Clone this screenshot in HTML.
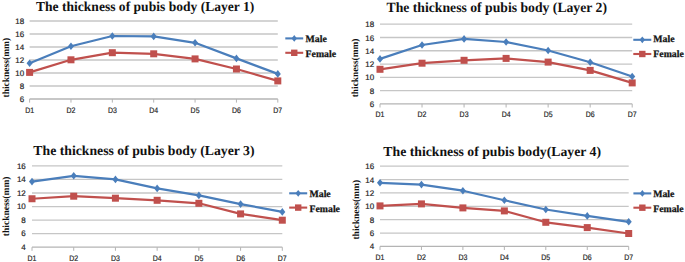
<!DOCTYPE html>
<html><head><meta charset="utf-8"><style>
html,body{margin:0;padding:0;background:#fff;width:685px;height:262px;overflow:hidden}
svg{display:block}
text{text-rendering:geometricPrecision}
.tk{font-family:"Liberation Sans",sans-serif;font-size:8.0px;fill:#262626;stroke:#262626;stroke-width:0.2px}
.ti{text-rendering:geometricPrecision;font-family:"Liberation Serif",serif;font-weight:bold;font-size:13.6px;fill:#111}
.yl{font-family:"Liberation Serif",serif;font-weight:bold;font-size:9.5px;fill:#111}
.lg{font-family:"Liberation Serif",serif;font-weight:bold;font-size:9.8px;fill:#111;stroke:#111;stroke-width:0.25px}
</style></head><body>
<svg width="685" height="262" viewBox="0 0 685 262">
<rect width="685" height="262" fill="#fff"/>
<line x1="29.6" x2="277.8" y1="21" y2="21" stroke="#c6c6c6" stroke-width="1.3"/>
<line x1="29.6" x2="277.8" y1="34" y2="34" stroke="#c6c6c6" stroke-width="1.3"/>
<line x1="29.6" x2="277.8" y1="47" y2="47" stroke="#c6c6c6" stroke-width="1.3"/>
<line x1="29.6" x2="277.8" y1="60" y2="60" stroke="#c6c6c6" stroke-width="1.3"/>
<line x1="29.6" x2="277.8" y1="73" y2="73" stroke="#c6c6c6" stroke-width="1.3"/>
<line x1="29.6" x2="277.8" y1="86" y2="86" stroke="#c6c6c6" stroke-width="1.3"/>
<line x1="29.6" x2="277.8" y1="99" y2="99" stroke="#b4b4b4" stroke-width="1.3"/>
<line x1="29.6" x2="29.6" y1="99" y2="102.6" stroke="#b4b4b4" stroke-width="1"/>
<line x1="70.97" x2="70.97" y1="99" y2="102.6" stroke="#b4b4b4" stroke-width="1"/>
<line x1="112.33" x2="112.33" y1="99" y2="102.6" stroke="#b4b4b4" stroke-width="1"/>
<line x1="153.7" x2="153.7" y1="99" y2="102.6" stroke="#b4b4b4" stroke-width="1"/>
<line x1="195.07" x2="195.07" y1="99" y2="102.6" stroke="#b4b4b4" stroke-width="1"/>
<line x1="236.43" x2="236.43" y1="99" y2="102.6" stroke="#b4b4b4" stroke-width="1"/>
<line x1="277.8" x2="277.8" y1="99" y2="102.6" stroke="#b4b4b4" stroke-width="1"/>
<text x="24.2" y="24" text-anchor="end" class="tk">18</text>
<text x="24.2" y="37" text-anchor="end" class="tk">16</text>
<text x="24.2" y="50" text-anchor="end" class="tk">14</text>
<text x="24.2" y="63" text-anchor="end" class="tk">12</text>
<text x="24.2" y="76" text-anchor="end" class="tk">10</text>
<text x="24.2" y="89" text-anchor="end" class="tk">8</text>
<text x="24.2" y="102" text-anchor="end" class="tk">6</text>
<text x="29.6" y="112.75" text-anchor="middle" class="tk" textLength="8.9" lengthAdjust="spacingAndGlyphs">D1</text>
<text x="70.97" y="112.75" text-anchor="middle" class="tk" textLength="8.9" lengthAdjust="spacingAndGlyphs">D2</text>
<text x="112.33" y="112.75" text-anchor="middle" class="tk" textLength="8.9" lengthAdjust="spacingAndGlyphs">D3</text>
<text x="153.7" y="112.75" text-anchor="middle" class="tk" textLength="8.9" lengthAdjust="spacingAndGlyphs">D4</text>
<text x="195.07" y="112.75" text-anchor="middle" class="tk" textLength="8.9" lengthAdjust="spacingAndGlyphs">D5</text>
<text x="236.43" y="112.75" text-anchor="middle" class="tk" textLength="8.9" lengthAdjust="spacingAndGlyphs">D6</text>
<text x="277.8" y="112.75" text-anchor="middle" class="tk" textLength="8.9" lengthAdjust="spacingAndGlyphs">D7</text>
<polyline points="29.6,72.4 70.97,59.8 112.33,52.7 153.7,53.8 195.07,58.9 236.43,69 277.8,80.9" fill="none" stroke="#c0504d" stroke-width="2.2" stroke-linejoin="round"/>
<polyline points="29.6,63.2 70.97,46.3 112.33,36 153.7,36.4 195.07,42.8 236.43,58.4 277.8,73.9" fill="none" stroke="#4a7ebb" stroke-width="2.2" stroke-linejoin="round"/>
<rect x="26.1" y="68.9" width="7" height="7" fill="#c0504d"/>
<rect x="67.47" y="56.3" width="7" height="7" fill="#c0504d"/>
<rect x="108.83" y="49.2" width="7" height="7" fill="#c0504d"/>
<rect x="150.2" y="50.3" width="7" height="7" fill="#c0504d"/>
<rect x="191.57" y="55.4" width="7" height="7" fill="#c0504d"/>
<rect x="232.93" y="65.5" width="7" height="7" fill="#c0504d"/>
<rect x="274.3" y="77.4" width="7" height="7" fill="#c0504d"/>
<path d="M29.6 59.4L32.64 63.2L29.6 67L26.56 63.2Z" fill="#4a7ebb"/>
<path d="M70.97 42.5L74.01 46.3L70.97 50.1L67.93 46.3Z" fill="#4a7ebb"/>
<path d="M112.33 32.2L115.37 36L112.33 39.8L109.29 36Z" fill="#4a7ebb"/>
<path d="M153.7 32.6L156.74 36.4L153.7 40.2L150.66 36.4Z" fill="#4a7ebb"/>
<path d="M195.07 39L198.11 42.8L195.07 46.6L192.03 42.8Z" fill="#4a7ebb"/>
<path d="M236.43 54.6L239.47 58.4L236.43 62.2L233.39 58.4Z" fill="#4a7ebb"/>
<path d="M277.8 70.1L280.84 73.9L277.8 77.7L274.76 73.9Z" fill="#4a7ebb"/>
<text x="35.94" y="10.9" class="ti" style="font-size:13.6px" textLength="218.41" lengthAdjust="spacingAndGlyphs">The thickness of pubis body (Layer 1)</text>
<text transform="translate(8.9,67.7) rotate(-90)" text-anchor="middle" class="yl" style="font-size:9.5px">thickness(mm)</text>
<line x1="285.3" x2="303.2" y1="38.4" y2="38.4" stroke="#4a7ebb" stroke-width="2.1"/>
<path d="M294.25 35L296.97 38.4L294.25 41.8L291.53 38.4Z" fill="#4a7ebb"/>
<text x="305.6" y="41.5" class="lg">Male</text>
<line x1="285.3" x2="303.2" y1="52.8" y2="52.8" stroke="#c0504d" stroke-width="2.1"/>
<rect x="291.05" y="49.6" width="6.4" height="6.4" fill="#c0504d"/>
<text x="305.6" y="56.9" class="lg">Female</text>
<line x1="380" x2="632.2" y1="24.2" y2="24.2" stroke="#c6c6c6" stroke-width="1.3"/>
<line x1="380" x2="632.2" y1="37.48" y2="37.48" stroke="#c6c6c6" stroke-width="1.3"/>
<line x1="380" x2="632.2" y1="50.77" y2="50.77" stroke="#c6c6c6" stroke-width="1.3"/>
<line x1="380" x2="632.2" y1="64.05" y2="64.05" stroke="#c6c6c6" stroke-width="1.3"/>
<line x1="380" x2="632.2" y1="77.33" y2="77.33" stroke="#c6c6c6" stroke-width="1.3"/>
<line x1="380" x2="632.2" y1="90.62" y2="90.62" stroke="#c6c6c6" stroke-width="1.3"/>
<line x1="380" x2="632.2" y1="103.9" y2="103.9" stroke="#b4b4b4" stroke-width="1.3"/>
<line x1="380" x2="380" y1="103.9" y2="107.5" stroke="#b4b4b4" stroke-width="1"/>
<line x1="422.03" x2="422.03" y1="103.9" y2="107.5" stroke="#b4b4b4" stroke-width="1"/>
<line x1="464.07" x2="464.07" y1="103.9" y2="107.5" stroke="#b4b4b4" stroke-width="1"/>
<line x1="506.1" x2="506.1" y1="103.9" y2="107.5" stroke="#b4b4b4" stroke-width="1"/>
<line x1="548.13" x2="548.13" y1="103.9" y2="107.5" stroke="#b4b4b4" stroke-width="1"/>
<line x1="590.17" x2="590.17" y1="103.9" y2="107.5" stroke="#b4b4b4" stroke-width="1"/>
<line x1="632.2" x2="632.2" y1="103.9" y2="107.5" stroke="#b4b4b4" stroke-width="1"/>
<text x="374.1" y="27.3" text-anchor="end" class="tk">18</text>
<text x="374.1" y="40.58" text-anchor="end" class="tk">16</text>
<text x="374.1" y="53.87" text-anchor="end" class="tk">14</text>
<text x="374.1" y="67.15" text-anchor="end" class="tk">12</text>
<text x="374.1" y="80.43" text-anchor="end" class="tk">10</text>
<text x="374.1" y="93.72" text-anchor="end" class="tk">8</text>
<text x="374.1" y="107" text-anchor="end" class="tk">6</text>
<text x="380" y="117" text-anchor="middle" class="tk" textLength="8.9" lengthAdjust="spacingAndGlyphs">D1</text>
<text x="422.03" y="117" text-anchor="middle" class="tk" textLength="8.9" lengthAdjust="spacingAndGlyphs">D2</text>
<text x="464.07" y="117" text-anchor="middle" class="tk" textLength="8.9" lengthAdjust="spacingAndGlyphs">D3</text>
<text x="506.1" y="117" text-anchor="middle" class="tk" textLength="8.9" lengthAdjust="spacingAndGlyphs">D4</text>
<text x="548.13" y="117" text-anchor="middle" class="tk" textLength="8.9" lengthAdjust="spacingAndGlyphs">D5</text>
<text x="590.17" y="117" text-anchor="middle" class="tk" textLength="8.9" lengthAdjust="spacingAndGlyphs">D6</text>
<text x="632.2" y="117" text-anchor="middle" class="tk" textLength="8.9" lengthAdjust="spacingAndGlyphs">D7</text>
<polyline points="380,69.3 422.03,63.2 464.07,60.3 506.1,58.4 548.13,62.1 590.17,70.4 632.2,82.9" fill="none" stroke="#c0504d" stroke-width="2.2" stroke-linejoin="round"/>
<polyline points="380,58.9 422.03,45 464.07,38.9 506.1,42 548.13,50.5 590.17,62.3 632.2,76.5" fill="none" stroke="#4a7ebb" stroke-width="2.2" stroke-linejoin="round"/>
<rect x="376.5" y="65.8" width="7" height="7" fill="#c0504d"/>
<rect x="418.53" y="59.7" width="7" height="7" fill="#c0504d"/>
<rect x="460.57" y="56.8" width="7" height="7" fill="#c0504d"/>
<rect x="502.6" y="54.9" width="7" height="7" fill="#c0504d"/>
<rect x="544.63" y="58.6" width="7" height="7" fill="#c0504d"/>
<rect x="586.67" y="66.9" width="7" height="7" fill="#c0504d"/>
<rect x="628.7" y="79.4" width="7" height="7" fill="#c0504d"/>
<path d="M380 55.1L383.04 58.9L380 62.7L376.96 58.9Z" fill="#4a7ebb"/>
<path d="M422.03 41.2L425.07 45L422.03 48.8L418.99 45Z" fill="#4a7ebb"/>
<path d="M464.07 35.1L467.11 38.9L464.07 42.7L461.03 38.9Z" fill="#4a7ebb"/>
<path d="M506.1 38.2L509.14 42L506.1 45.8L503.06 42Z" fill="#4a7ebb"/>
<path d="M548.13 46.7L551.17 50.5L548.13 54.3L545.09 50.5Z" fill="#4a7ebb"/>
<path d="M590.17 58.5L593.21 62.3L590.17 66.1L587.13 62.3Z" fill="#4a7ebb"/>
<path d="M632.2 72.7L635.24 76.5L632.2 80.3L629.16 76.5Z" fill="#4a7ebb"/>
<text x="386.54" y="11.5" class="ti" style="font-size:14.0px" textLength="220.42" lengthAdjust="spacingAndGlyphs">The thickness of pubis body (Layer 2)</text>
<text transform="translate(358,67.95) rotate(-90)" text-anchor="middle" class="yl" style="font-size:9.35px">thickness(mm)</text>
<line x1="633.3" x2="651.3" y1="39.8" y2="39.8" stroke="#4a7ebb" stroke-width="2.1"/>
<path d="M642.3 36.4L645.02 39.8L642.3 43.2L639.58 39.8Z" fill="#4a7ebb"/>
<text x="653.3" y="41.5" class="lg">Male</text>
<line x1="633.3" x2="651.3" y1="54" y2="54" stroke="#c0504d" stroke-width="2.1"/>
<rect x="639.1" y="50.8" width="6.4" height="6.4" fill="#c0504d"/>
<text x="653.3" y="56.9" class="lg">Female</text>
<line x1="32" x2="282.3" y1="165.9" y2="165.9" stroke="#c6c6c6" stroke-width="1.3"/>
<line x1="32" x2="282.3" y1="179.45" y2="179.45" stroke="#c6c6c6" stroke-width="1.3"/>
<line x1="32" x2="282.3" y1="193" y2="193" stroke="#c6c6c6" stroke-width="1.3"/>
<line x1="32" x2="282.3" y1="206.55" y2="206.55" stroke="#c6c6c6" stroke-width="1.3"/>
<line x1="32" x2="282.3" y1="220.1" y2="220.1" stroke="#c6c6c6" stroke-width="1.3"/>
<line x1="32" x2="282.3" y1="233.65" y2="233.65" stroke="#c6c6c6" stroke-width="1.3"/>
<line x1="32" x2="282.3" y1="247.2" y2="247.2" stroke="#b4b4b4" stroke-width="1.3"/>
<line x1="32" x2="32" y1="247.2" y2="250.8" stroke="#b4b4b4" stroke-width="1"/>
<line x1="73.72" x2="73.72" y1="247.2" y2="250.8" stroke="#b4b4b4" stroke-width="1"/>
<line x1="115.43" x2="115.43" y1="247.2" y2="250.8" stroke="#b4b4b4" stroke-width="1"/>
<line x1="157.15" x2="157.15" y1="247.2" y2="250.8" stroke="#b4b4b4" stroke-width="1"/>
<line x1="198.87" x2="198.87" y1="247.2" y2="250.8" stroke="#b4b4b4" stroke-width="1"/>
<line x1="240.58" x2="240.58" y1="247.2" y2="250.8" stroke="#b4b4b4" stroke-width="1"/>
<line x1="282.3" x2="282.3" y1="247.2" y2="250.8" stroke="#b4b4b4" stroke-width="1"/>
<text x="25.8" y="168.6" text-anchor="end" class="tk">16</text>
<text x="25.8" y="182.15" text-anchor="end" class="tk">14</text>
<text x="25.8" y="195.7" text-anchor="end" class="tk">12</text>
<text x="25.8" y="209.25" text-anchor="end" class="tk">10</text>
<text x="25.8" y="222.8" text-anchor="end" class="tk">8</text>
<text x="25.8" y="236.35" text-anchor="end" class="tk">6</text>
<text x="25.8" y="249.9" text-anchor="end" class="tk">4</text>
<text x="32" y="260.5" text-anchor="middle" class="tk" textLength="8.9" lengthAdjust="spacingAndGlyphs">D1</text>
<text x="73.72" y="260.5" text-anchor="middle" class="tk" textLength="8.9" lengthAdjust="spacingAndGlyphs">D2</text>
<text x="115.43" y="260.5" text-anchor="middle" class="tk" textLength="8.9" lengthAdjust="spacingAndGlyphs">D3</text>
<text x="157.15" y="260.5" text-anchor="middle" class="tk" textLength="8.9" lengthAdjust="spacingAndGlyphs">D4</text>
<text x="198.87" y="260.5" text-anchor="middle" class="tk" textLength="8.9" lengthAdjust="spacingAndGlyphs">D5</text>
<text x="240.58" y="260.5" text-anchor="middle" class="tk" textLength="8.9" lengthAdjust="spacingAndGlyphs">D6</text>
<text x="282.3" y="260.5" text-anchor="middle" class="tk" textLength="8.9" lengthAdjust="spacingAndGlyphs">D7</text>
<polyline points="32,198.75 73.72,196.2 115.43,198.2 157.15,200.3 198.87,203.3 240.58,213.9 282.3,220.2" fill="none" stroke="#c0504d" stroke-width="2.2" stroke-linejoin="round"/>
<polyline points="32,181.6 73.72,175.8 115.43,179.4 157.15,188.4 198.87,195.4 240.58,204.1 282.3,211.9" fill="none" stroke="#4a7ebb" stroke-width="2.2" stroke-linejoin="round"/>
<rect x="28.5" y="195.25" width="7" height="7" fill="#c0504d"/>
<rect x="70.22" y="192.7" width="7" height="7" fill="#c0504d"/>
<rect x="111.93" y="194.7" width="7" height="7" fill="#c0504d"/>
<rect x="153.65" y="196.8" width="7" height="7" fill="#c0504d"/>
<rect x="195.37" y="199.8" width="7" height="7" fill="#c0504d"/>
<rect x="237.08" y="210.4" width="7" height="7" fill="#c0504d"/>
<rect x="278.8" y="216.7" width="7" height="7" fill="#c0504d"/>
<path d="M32 177.8L35.04 181.6L32 185.4L28.96 181.6Z" fill="#4a7ebb"/>
<path d="M73.72 172L76.76 175.8L73.72 179.6L70.68 175.8Z" fill="#4a7ebb"/>
<path d="M115.43 175.6L118.47 179.4L115.43 183.2L112.39 179.4Z" fill="#4a7ebb"/>
<path d="M157.15 184.6L160.19 188.4L157.15 192.2L154.11 188.4Z" fill="#4a7ebb"/>
<path d="M198.87 191.6L201.91 195.4L198.87 199.2L195.83 195.4Z" fill="#4a7ebb"/>
<path d="M240.58 200.3L243.62 204.1L240.58 207.9L237.54 204.1Z" fill="#4a7ebb"/>
<path d="M282.3 208.1L285.34 211.9L282.3 215.7L279.26 211.9Z" fill="#4a7ebb"/>
<text x="33.34" y="155.2" class="ti" style="font-size:13.6px" textLength="221.22" lengthAdjust="spacingAndGlyphs">The thickness of pubis body (Layer 3)</text>
<text transform="translate(8.9,206.35) rotate(-90)" text-anchor="middle" class="yl" style="font-size:9.5px">thickness(mm)</text>
<line x1="289.2" x2="307.2" y1="193.3" y2="193.3" stroke="#4a7ebb" stroke-width="2.1"/>
<path d="M298.2 189.9L300.92 193.3L298.2 196.7L295.48 193.3Z" fill="#4a7ebb"/>
<text x="309.5" y="196.5" class="lg">Male</text>
<line x1="289.2" x2="307.2" y1="207.6" y2="207.6" stroke="#c0504d" stroke-width="2.1"/>
<rect x="295" y="204.4" width="6.4" height="6.4" fill="#c0504d"/>
<text x="309.5" y="211.8" class="lg">Female</text>
<line x1="380" x2="628.7" y1="166.2" y2="166.2" stroke="#c6c6c6" stroke-width="1.3"/>
<line x1="380" x2="628.7" y1="179.57" y2="179.57" stroke="#c6c6c6" stroke-width="1.3"/>
<line x1="380" x2="628.7" y1="192.93" y2="192.93" stroke="#c6c6c6" stroke-width="1.3"/>
<line x1="380" x2="628.7" y1="206.3" y2="206.3" stroke="#c6c6c6" stroke-width="1.3"/>
<line x1="380" x2="628.7" y1="219.67" y2="219.67" stroke="#c6c6c6" stroke-width="1.3"/>
<line x1="380" x2="628.7" y1="233.03" y2="233.03" stroke="#c6c6c6" stroke-width="1.3"/>
<line x1="380" x2="628.7" y1="246.4" y2="246.4" stroke="#b4b4b4" stroke-width="1.3"/>
<line x1="380" x2="380" y1="246.4" y2="250" stroke="#b4b4b4" stroke-width="1"/>
<line x1="421.45" x2="421.45" y1="246.4" y2="250" stroke="#b4b4b4" stroke-width="1"/>
<line x1="462.9" x2="462.9" y1="246.4" y2="250" stroke="#b4b4b4" stroke-width="1"/>
<line x1="504.35" x2="504.35" y1="246.4" y2="250" stroke="#b4b4b4" stroke-width="1"/>
<line x1="545.8" x2="545.8" y1="246.4" y2="250" stroke="#b4b4b4" stroke-width="1"/>
<line x1="587.25" x2="587.25" y1="246.4" y2="250" stroke="#b4b4b4" stroke-width="1"/>
<line x1="628.7" x2="628.7" y1="246.4" y2="250" stroke="#b4b4b4" stroke-width="1"/>
<text x="374.1" y="169.2" text-anchor="end" class="tk">16</text>
<text x="374.1" y="182.57" text-anchor="end" class="tk">14</text>
<text x="374.1" y="195.93" text-anchor="end" class="tk">12</text>
<text x="374.1" y="209.3" text-anchor="end" class="tk">10</text>
<text x="374.1" y="222.67" text-anchor="end" class="tk">8</text>
<text x="374.1" y="236.03" text-anchor="end" class="tk">6</text>
<text x="374.1" y="249.4" text-anchor="end" class="tk">4</text>
<text x="380" y="259.6" text-anchor="middle" class="tk" textLength="8.9" lengthAdjust="spacingAndGlyphs">D1</text>
<text x="421.45" y="259.6" text-anchor="middle" class="tk" textLength="8.9" lengthAdjust="spacingAndGlyphs">D2</text>
<text x="462.9" y="259.6" text-anchor="middle" class="tk" textLength="8.9" lengthAdjust="spacingAndGlyphs">D3</text>
<text x="504.35" y="259.6" text-anchor="middle" class="tk" textLength="8.9" lengthAdjust="spacingAndGlyphs">D4</text>
<text x="545.8" y="259.6" text-anchor="middle" class="tk" textLength="8.9" lengthAdjust="spacingAndGlyphs">D5</text>
<text x="587.25" y="259.6" text-anchor="middle" class="tk" textLength="8.9" lengthAdjust="spacingAndGlyphs">D6</text>
<text x="628.7" y="259.6" text-anchor="middle" class="tk" textLength="8.9" lengthAdjust="spacingAndGlyphs">D7</text>
<polyline points="380,205.9 421.45,203.9 462.9,207.9 504.35,210.9 545.8,222.3 587.25,227.6 628.7,233.5" fill="none" stroke="#c0504d" stroke-width="2.2" stroke-linejoin="round"/>
<polyline points="380,182.8 421.45,184.6 462.9,190.7 504.35,200.2 545.8,209.5 587.25,215.9 628.7,221.8" fill="none" stroke="#4a7ebb" stroke-width="2.2" stroke-linejoin="round"/>
<rect x="376.5" y="202.4" width="7" height="7" fill="#c0504d"/>
<rect x="417.95" y="200.4" width="7" height="7" fill="#c0504d"/>
<rect x="459.4" y="204.4" width="7" height="7" fill="#c0504d"/>
<rect x="500.85" y="207.4" width="7" height="7" fill="#c0504d"/>
<rect x="542.3" y="218.8" width="7" height="7" fill="#c0504d"/>
<rect x="583.75" y="224.1" width="7" height="7" fill="#c0504d"/>
<rect x="625.2" y="230" width="7" height="7" fill="#c0504d"/>
<path d="M380 179L383.04 182.8L380 186.6L376.96 182.8Z" fill="#4a7ebb"/>
<path d="M421.45 180.8L424.49 184.6L421.45 188.4L418.41 184.6Z" fill="#4a7ebb"/>
<path d="M462.9 186.9L465.94 190.7L462.9 194.5L459.86 190.7Z" fill="#4a7ebb"/>
<path d="M504.35 196.4L507.39 200.2L504.35 204L501.31 200.2Z" fill="#4a7ebb"/>
<path d="M545.8 205.7L548.84 209.5L545.8 213.3L542.76 209.5Z" fill="#4a7ebb"/>
<path d="M587.25 212.1L590.29 215.9L587.25 219.7L584.21 215.9Z" fill="#4a7ebb"/>
<path d="M628.7 218L631.74 221.8L628.7 225.6L625.66 221.8Z" fill="#4a7ebb"/>
<text x="383.34" y="155.8" class="ti" style="font-size:13.6px" textLength="217.72" lengthAdjust="spacingAndGlyphs">The thickness of pubis body(Layer 4)</text>
<text transform="translate(358.7,209.75) rotate(-90)" text-anchor="middle" class="yl" style="font-size:9.5px">thickness(mm)</text>
<line x1="633.4" x2="651.3" y1="193.4" y2="193.4" stroke="#4a7ebb" stroke-width="2.1"/>
<path d="M642.35 190L645.07 193.4L642.35 196.8L639.63 193.4Z" fill="#4a7ebb"/>
<text x="653.2" y="196.5" class="lg">Male</text>
<line x1="633.4" x2="651.3" y1="207.7" y2="207.7" stroke="#c0504d" stroke-width="2.1"/>
<rect x="639.15" y="204.5" width="6.4" height="6.4" fill="#c0504d"/>
<text x="653.2" y="211.8" class="lg">Female</text>
</svg>
</body></html>
